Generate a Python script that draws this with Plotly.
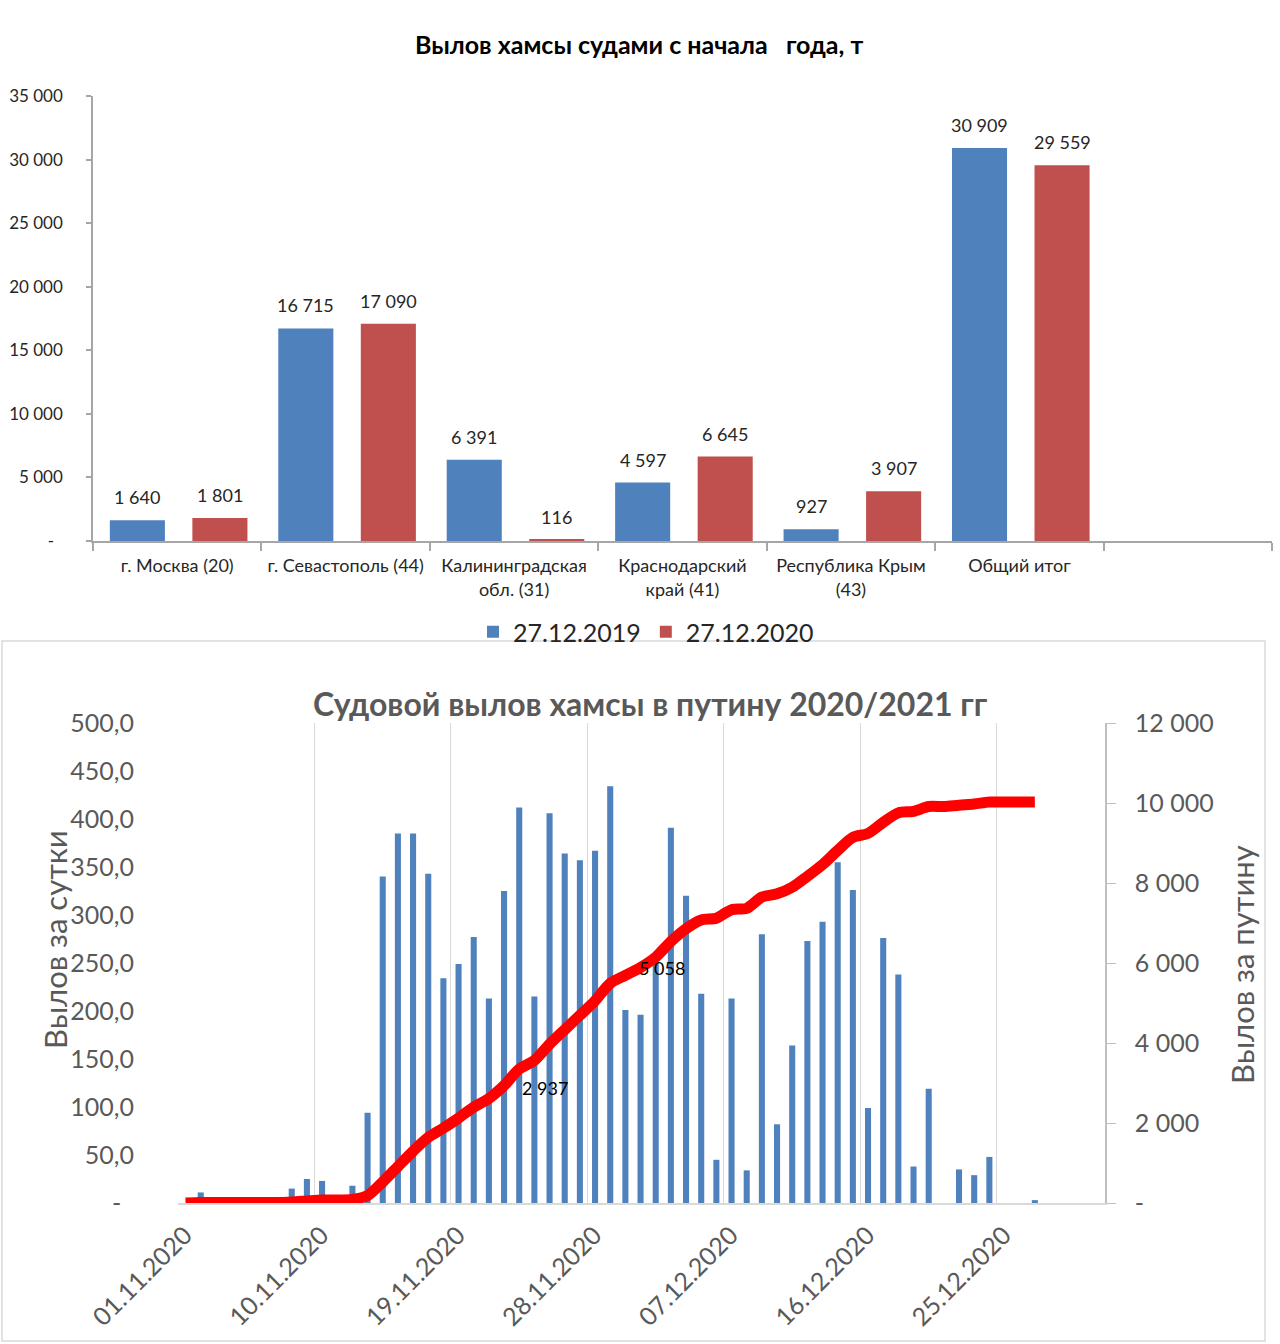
import plotly.graph_objects as go
import pandas as pd

W, H = 1280, 1344
FONT = "Lato"

# ---------------- Top chart data ----------------
regions = ["г. Москва (20)", "г. Севастополь (44)", "Калининградская<br>обл. (31)",
           "Краснодарский<br>край (41)", "Республика Крым<br>(43)", "Общий итог", " "]
catch_2019 = [1640, 16715, 6391, 4597, 927, 30909, None]
catch_2020 = [1801, 17090, 116, 6645, 3907, 29559, None]
series_names = ["27.12.2019", "27.12.2020"]
series_colors = ["#4F81BD", "#C0504D"]
top_ticks = [0, 5000, 10000, 15000, 20000, 25000, 30000, 35000]

# ---------------- Bottom chart data ----------------
dates = pd.date_range("2020-11-01", "2020-12-27", freq="D")
daily_catch = [0, 11, 0, 0, 0, 0, 0, 15, 25, 23, 0, 18, 94, 340, 385, 385, 343, 234,
               249, 277, 213, 325, 412, 215, 406, 364, 357, 367, 434, 201, 196, 258,
               391, 320, 218, 45, 213, 34, 280, 82, 164, 273, 293, 355, 326, 99, 276,
               238, 38, 119, 0, 35, 29, 48, 0, 0, 3]
season_catch = [0, 11, 11, 11, 11, 11, 11, 26, 51, 74, 74, 92, 186, 526, 911, 1296,
                1639, 1873, 2122, 2399, 2612, 2937, 3349, 3564, 3970, 4334, 4691, 5058,
                5492, 5693, 5889, 6147, 6538, 6858, 7076, 7121, 7334, 7368, 7648, 7730,
                7894, 8167, 8460, 8815, 9141, 9240, 9516, 9754, 9792, 9911, 9911, 9946,
                9975, 10023, 10023, 10023, 10026]
labelled_days = ["2020-11-22", "2020-11-28"]
labelled_values = [2937, 5058]
left_ticks = [0, 50, 100, 150, 200, 250, 300, 350, 400, 450, 500]
right_ticks = [0, 2000, 4000, 6000, 8000, 10000, 12000]


def sp(v):
    return f"{v:,}".replace(",", " ")


def px_x(x):
    return x / W


def px_y(y):
    return 1 - y / H


DAY = 86400000

fig = go.Figure()

bar_w = 0.327
offsets = [-0.40, 0.09]
for name, vals, col, off in zip(series_names, [catch_2019, catch_2020], series_colors, offsets):
    fig.add_trace(go.Bar(x=regions, y=vals, name=name, marker_color=col,
                         width=bar_w, offset=off, xaxis="x", yaxis="y"))

fig.add_trace(go.Bar(x=dates, y=daily_catch, marker_color="#4F81BD", width=0.4 * DAY,
                     xperiod=DAY, xperiodalignment="middle", showlegend=False,
                     xaxis="x2", yaxis="y2", name="Вылов за сутки"))
fig.add_trace(go.Scatter(x=dates, y=season_catch, mode="lines",
                         line=dict(color="#FF0000", width=11, shape="spline", smoothing=0.8),
                         xperiod=DAY, xperiodalignment="middle", showlegend=False,
                         xaxis="x2", yaxis="y3", name="Вылов за путину"))

annotations = []
# bar value labels (top chart)
slot_px = (1272 - 93) / 7
for vals, off in zip([catch_2019, catch_2020], offsets):
    shift = (off + bar_w / 2) * slot_px
    for cat, v in zip(regions, vals):
        if v is None:
            continue
        annotations.append(dict(x=cat, y=v, xref="x", yref="y", text=sp(v), showarrow=False,
                                xshift=shift, yshift=10, yanchor="bottom", xanchor="center",
                                font=dict(family=FONT, size=18, color="#262626")))

# line labels
label_shifts = [(49, -2), (75, 33)]
for d, v, (xs, ys) in zip(labelled_days, labelled_values, label_shifts):
    annotations.append(dict(x=d, y=v, xref="x2", yref="y3", text=sp(v), showarrow=False,
                            xshift=xs, yshift=ys, xanchor="center", yanchor="middle",
                            font=dict(family=FONT, size=18, color="#000000")))

annotations += [
    dict(x=px_x(639), y=px_y(44), xref="paper", yref="paper", showarrow=False,
         xanchor="center", yanchor="middle",
         text="<b>Вылов хамсы судами с начала\u00a0\u00a0 года, т</b>",
         font=dict(family=FONT, size=25, color="#000000")),
    dict(x=px_x(650), y=px_y(703), xref="paper", yref="paper", showarrow=False,
         xanchor="center", yanchor="middle",
         text="<b>Судовой вылов хамсы в путину 2020/2021 гг</b>",
         font=dict(family=FONT, size=32, color="#595959")),
    dict(x=px_x(55), y=px_y(940), xref="paper", yref="paper", showarrow=False,
         xanchor="center", yanchor="middle",
         text="Вылов за сутки", textangle=-90,
         font=dict(family=FONT, size=31, color="#595959")),
    dict(x=px_x(1242), y=px_y(965), xref="paper", yref="paper", showarrow=False,
         xanchor="center", yanchor="middle",
         text="Вылов за путину", textangle=-90,
         font=dict(family=FONT, size=31, color="#595959")),
]

fig.update_layout(
    template="none",
    width=W, height=H, margin=dict(l=0, r=0, t=0, b=0, pad=0, autoexpand=False),
    paper_bgcolor="white", plot_bgcolor="white",
    barmode="overlay",
    font=dict(family=FONT, color="#262626"),
    legend=dict(orientation="h", x=px_x(646), xanchor="center", y=px_y(632), yanchor="middle",
                font=dict(family=FONT, size=25, color="#262626"), bgcolor="rgba(0,0,0,0)",
                tracegroupgap=0),
    xaxis=dict(domain=[px_x(93), px_x(1272)], anchor="y", type="category", automargin=False,
               categoryorder="array", categoryarray=regions, range=[-0.5, 6.5],
               showline=True, linecolor="#A6A6A6", linewidth=1.5, ticks="outside",
               tickson="boundaries", ticklen=8, tickcolor="#A6A6A6", tickwidth=1.5,
               ticklabelstandoff=8,
               tickfont=dict(family=FONT, size=18, color="#262626"), showgrid=False,
               zeroline=False, fixedrange=True),
    yaxis=dict(domain=[px_y(541), px_y(96)], anchor="x", range=[0, 35000], automargin=False,
               tickvals=top_ticks, ticktext=[sp(v) if v else "-\u00a0\u00a0" for v in top_ticks],
               showline=True, linecolor="#A6A6A6", linewidth=1.5, ticks="outside", ticklen=5,
               tickcolor="#A6A6A6", tickwidth=1.5, showgrid=False, zeroline=False,
               ticklabelstandoff=20, tickfont=dict(family=FONT, size=17, color="#262626")),
    xaxis2=dict(domain=[px_x(178), px_x(1105)], anchor="y2", type="date", automargin=False,
                range=["2020-11-01", "2021-01-01 03:00"], tick0="2020-11-01", dtick=9 * DAY,
                tickformat="%d.%m.%Y", tickangle=-45, showgrid=True, gridcolor="#D9D9D9",
                gridwidth=1, showline=True, linecolor="#D9D9D9", linewidth=1.5, ticks="",
                ticklabelstandoff=6, ticklabelshift=7,
                tickfont=dict(family=FONT, size=25, color="#595959"), zeroline=False),
    yaxis2=dict(domain=[px_y(1203), px_y(723)], anchor="x2", range=[0, 500], automargin=False,
                tickvals=left_ticks,
                ticktext=[f"{v:.1f}".replace(".", ",") if v else "-\u00a0\u00a0" for v in left_ticks],
                showline=False, showgrid=False, zeroline=False, ticks="",
                ticklabelstandoff=43, tickfont=dict(family=FONT, size=25, color="#595959")),
    yaxis3=dict(overlaying="y2", side="right", anchor="x2", range=[0, 12000], automargin=False,
                tickvals=right_ticks, ticktext=[sp(v) if v else "-" for v in right_ticks],
                showline=True, linecolor="#BFBFBF", linewidth=1.5, ticks="outside", ticklen=9,
                tickcolor="#BFBFBF", showgrid=False, zeroline=False, ticklabelstandoff=14,
                tickfont=dict(family=FONT, size=25, color="#595959")),
    annotations=annotations,
    shapes=[dict(type="rect", xref="paper", yref="paper", x0=px_x(2), x1=px_x(1265),
                 y0=px_y(1341), y1=px_y(641), line=dict(color="#D9D9D9", width=1.5),
                 layer="below")],
)

fig.write_html("out.html", config={"displayModeBar": False},
               post_script="document.body.style.margin='0';document.body.style.overflow='hidden';")
